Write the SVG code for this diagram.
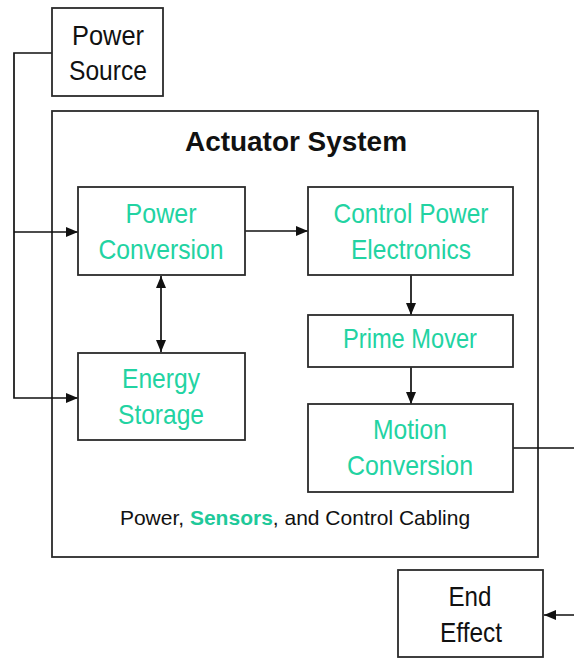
<svg xmlns="http://www.w3.org/2000/svg" width="574" height="658" viewBox="0 0 574 658">
<defs>
<style>
.box{fill:#fff;stroke:#2b2b2b;stroke-width:1.8}
.lbl{font-family:"Liberation Sans",Arial,sans-serif;font-size:28px;text-anchor:middle}
.g{fill:#22d3a2}
.k{fill:#111}
.ln{fill:none;stroke:#111;stroke-width:1.7}
</style>
<marker id="ah" viewBox="0 0 12 10" refX="12" refY="5" markerWidth="12" markerHeight="10" markerUnits="userSpaceOnUse" orient="auto-start-reverse">
<path d="M0,0 L12,5 L0,10 z" fill="#111"/>
</marker>
</defs>
<rect width="574" height="658" fill="#fff"/>
<g id="actuator-system">
<rect class="box" x="52" y="111" width="486" height="446"/>
<text x="296" y="151" font-family="'Liberation Sans',Arial,sans-serif" font-size="28" font-weight="bold" fill="#111" text-anchor="middle" textLength="222" lengthAdjust="spacingAndGlyphs">Actuator System</text>
<text x="295" y="525" font-family="'Liberation Sans',Arial,sans-serif" font-size="21" fill="#111" text-anchor="middle">Power, <tspan font-weight="bold" fill="#1fc99a">Sensors</tspan>, and Control Cabling</text>
</g>
<g id="connectors">
<path class="ln" d="M52,53 H14 V398 H78" marker-end="url(#ah)"/>
<path class="ln" d="M14,232 H78" marker-end="url(#ah)"/>
<path class="ln" d="M245,231 H308" marker-end="url(#ah)"/>
<path class="ln" d="M161,276 V352" marker-start="url(#ah)" marker-end="url(#ah)"/>
<path class="ln" d="M411,275 V315" marker-end="url(#ah)"/>
<path class="ln" d="M411,367 V404" marker-end="url(#ah)"/>
<path class="ln" d="M513,448 H580 V615 H544" marker-end="url(#ah)"/>
</g>
<g id="power-source">
<rect class="box" x="52" y="8" width="111" height="88"/>
<text class="lbl k" x="108" y="45" textLength="72" lengthAdjust="spacingAndGlyphs">Power</text>
<text class="lbl k" x="108" y="80" textLength="78" lengthAdjust="spacingAndGlyphs">Source</text>
</g>
<g id="power-conversion">
<rect class="box" x="78" y="187" width="167" height="88"/>
<text class="lbl g" x="161" y="223" textLength="71" lengthAdjust="spacingAndGlyphs">Power</text>
<text class="lbl g" x="161" y="259" textLength="125" lengthAdjust="spacingAndGlyphs">Conversion</text>
</g>
<g id="energy-storage">
<rect class="box" x="78" y="353" width="167" height="87"/>
<text class="lbl g" x="161" y="388" textLength="78" lengthAdjust="spacingAndGlyphs">Energy</text>
<text class="lbl g" x="161" y="424" textLength="86" lengthAdjust="spacingAndGlyphs">Storage</text>
</g>
<g id="control-power-electronics">
<rect class="box" x="308" y="187" width="205" height="88"/>
<text class="lbl g" x="411" y="223" textLength="155" lengthAdjust="spacingAndGlyphs">Control Power</text>
<text class="lbl g" x="411" y="259" textLength="120" lengthAdjust="spacingAndGlyphs">Electronics</text>
</g>
<g id="prime-mover">
<rect class="box" x="308" y="315" width="205" height="52"/>
<text class="lbl g" x="410" y="348" textLength="134" lengthAdjust="spacingAndGlyphs">Prime Mover</text>
</g>
<g id="motion-conversion">
<rect class="box" x="308" y="404" width="205" height="88"/>
<text class="lbl g" x="410" y="439" textLength="74" lengthAdjust="spacingAndGlyphs">Motion</text>
<text class="lbl g" x="410" y="475" textLength="126" lengthAdjust="spacingAndGlyphs">Conversion</text>
</g>
<g id="end-effect">
<rect class="box" x="398" y="570" width="145" height="87"/>
<text class="lbl k" x="470" y="606" textLength="43" lengthAdjust="spacingAndGlyphs">End</text>
<text class="lbl k" x="471" y="642" textLength="62" lengthAdjust="spacingAndGlyphs">Effect</text>
</g>
</svg>
